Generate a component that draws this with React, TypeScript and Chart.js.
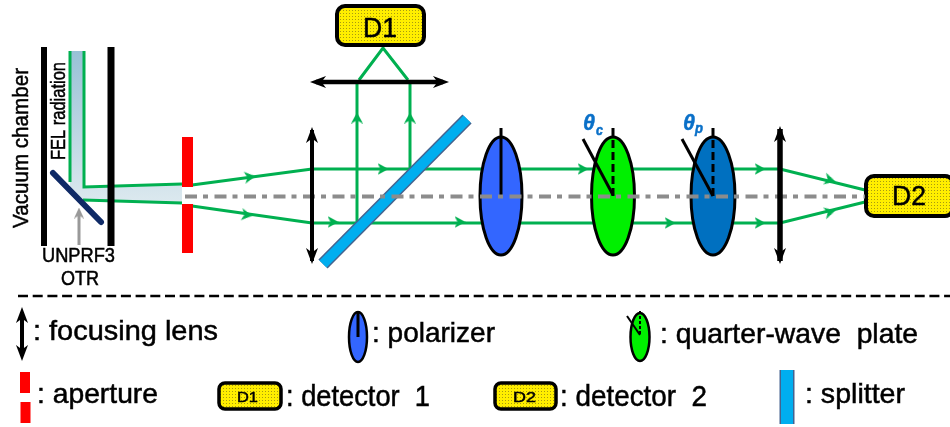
import React, { useEffect, useRef } from "react";
import { Chart, registerables } from "chart.js";

Chart.register(...registerables);

type P = { x: number; y: number };
const pts = (...a: number[]): P[] => {
  const out: P[] = [];
  for (let i = 0; i < a.length; i += 2) out.push({ x: a[i], y: a[i + 1] });
  return out;
};

// Beam and ray paths
const beamOutline = pts(70, 51, 84, 51, 84, 187, 182, 184, 182, 203, 83, 200, 70, 186);
const greenRays = [
  pts(70, 51, 70, 182),
  pts(84, 51, 84, 187, 182, 184),
  pts(83, 200, 182, 203),
  pts(192, 185, 312, 169, 780, 169, 865, 190),
  pts(192, 206, 312, 223, 780, 223, 865, 202),
  pts(357, 222, 357, 84),
  pts(410, 169, 410, 82),
  pts(359, 80, 383, 48, 408, 80),
];
const greenHeads = [
  { x: 250, y: 177, a: 82 }, { x: 247, y: 215, a: 98 },
  { x: 383, y: 169, a: 90 }, { x: 333, y: 222, a: 90 },
  { x: 460, y: 222, a: 90 }, { x: 583, y: 169, a: 90 },
  { x: 357, y: 118, a: 0 }, { x: 410, y: 118, a: 0 },
  { x: 760, y: 169, a: 90 }, { x: 760, y: 223, a: 90 }, { x: 670, y: 223, a: 90 },
  { x: 830, y: 180, a: 104 }, { x: 830, y: 212, a: 76 },
];
const blackHeads = [
  { x: 312, y: 135, a: 0 }, { x: 312, y: 256, a: 180 },
  { x: 780, y: 134, a: 0 }, { x: 780, y: 256, a: 180 },
  { x: 318, y: 82, a: 270 }, { x: 441, y: 82, a: 90 },
  { x: 22, y: 315, a: 0 }, { x: 22, y: 353, a: 180 },
];

// Structural lines
const chamberWalls = [pts(44, 47, 44, 246), pts(111, 47, 111, 246)];
const mirror = pts(53, 173, 101, 222);
const otrArrow = pts(79, 245, 79, 214);
const apertureBars = [pts(187.5, 137, 187.5, 187), pts(187.5, 204, 187.5, 253)];
const axisLine = pts(185, 196.5, 865, 196.5);
const lenses = [
  { d: pts(312, 130, 312, 261), w: 4 },
  { d: pts(780, 129, 780, 261), w: 5.5 },
  { d: pts(316, 82, 443, 82), w: 4.5 },
  { d: pts(22, 312, 22, 356), w: 4 },
];
const splitter = pts(323, 264, 467, 119);
const divider = pts(18, 296, 950, 296);
const apertureKey = [pts(25, 372, 25, 393), pts(25.5, 402, 25.5, 423)];
const splitterKey = pts(787, 370, 787, 424);
const solidTicks = [pts(501, 128, 501, 196), pts(583, 139, 613, 195), pts(682, 139, 713, 196), pts(358, 311, 358, 337)];
const dashedTicks = [pts(613, 128, 613, 196), pts(713, 128, 713, 196)];
const keyTilt = pts(627, 316, 640, 335);
const keyDash = pts(640, 311, 640, 335);

// Optics
const ellipses = [
  { x: 501, y: 196, rx: 21, ry: 59, fill: "#3366ff", lw: 3 },
  { x: 613, y: 196, rx: 21.5, ry: 59, fill: "#00f000", lw: 3 },
  { x: 713, y: 196, rx: 22, ry: 59, fill: "#0070c0", lw: 3 },
  { x: 358, y: 337, rx: 9, ry: 25, fill: "#3366ff", lw: 2.5 },
  { x: 640, y: 337, rx: 9.5, ry: 24, fill: "#00f000", lw: 2.5 },
];
const detectors = [
  { x0: 337, y0: 6, x1: 424, y1: 45, r: 8, lw: 4 },
  { x0: 866, y0: 176, x1: 953, y1: 216, r: 8, lw: 4 },
  { x0: 219, y0: 383, x1: 281, y1: 409, r: 6, lw: 3.5 },
  { x0: 495, y0: 383, x1: 556, y1: 409, r: 6, lw: 3.5 },
];

// Text
const labels = [
  { t: "D1", x: 363, y: 37, s: 28, w: 34 },
  { t: "D2", x: 892, y: 205, s: 27, w: 34 },
  { t: "D1", x: 237, y: 402, s: 15, w: 21 },
  { t: "D2", x: 513, y: 402, s: 15, w: 23 },
  { t: "Vacuum chamber", x: 28, y: 228, s: 22, w: 160, rot: true },
  { t: "FEL radiation", x: 65, y: 160, s: 20, w: 98, rot: true },
  { t: "UNPRF3", x: 42, y: 262, s: 20, w: 73 },
  { t: "OTR", x: 61, y: 285, s: 20, w: 38 },
  { t: ": focusing lens", x: 33, y: 340, s: 28, w: 185 },
  { t: ": polarizer", x: 372, y: 342, s: 28, w: 123 },
  { t: ": quarter-wave  plate", x: 660, y: 343, s: 28, w: 258 },
  { t: ": aperture", x: 37, y: 403, s: 28, w: 121 },
  { t: ": detector  1", x: 286, y: 406, s: 29, w: 144 },
  { t: ": detector  2", x: 560, y: 406, s: 29, w: 147 },
  { t: ": splitter", x: 805, y: 403, s: 28, w: 100 },
  { t: "θ", x: 583, y: 130, s: 23, w: 12, c: "#0a70c8", st: "italic bold" },
  { t: "c", x: 596, y: 135, s: 14, w: 7, c: "#0a70c8", st: "italic bold" },
  { t: "θ", x: 683, y: 130, s: 23, w: 12, c: "#0a70c8", st: "italic bold" },
  { t: "p", x: 695, y: 133, s: 14, w: 8, c: "#0a70c8", st: "italic bold" },
];

const GREEN = "#00b050";
const FONT = '"Liberation Sans", Arial, sans-serif';

function stealth(color: string, w: number, h: number) {
  const c = document.createElement("canvas");
  c.width = w; c.height = h;
  const g = c.getContext("2d")!;
  g.fillStyle = color;
  g.beginPath();
  g.moveTo(w / 2, 0);
  g.lineTo(w, h);
  g.lineTo(w / 2, h * 0.72);
  g.lineTo(0, h);
  g.closePath();
  g.fill();
  return c;
}

function dotPattern(ctx: CanvasRenderingContext2D) {
  const c = document.createElement("canvas");
  c.width = 3; c.height = 3;
  const g = c.getContext("2d")!;
  g.fillStyle = "#ffee00";
  g.fillRect(0, 0, 3, 3);
  g.fillStyle = "#a89a10";
  g.fillRect(1, 1, 1, 1);
  return ctx.createPattern(c, "repeat")!;
}

export default function App() {
  const ref = useRef<HTMLCanvasElement>(null);
  useEffect(() => {
    document.body.style.margin = "0";
    const canvas = ref.current!;
    const line = (data: P[], color: string, width: number, extra: object = {}) => ({
      data, borderColor: color, borderWidth: width, showLine: true, pointRadius: 0,
      tension: 0, borderCapStyle: "butt", borderJoinStyle: "miter", fill: false, clip: false, ...extra,
    });
    const heads = (list: { x: number; y: number; a: number }[], img: HTMLCanvasElement) => ({
      data: list.map((h) => ({ x: h.x, y: h.y })), showLine: false, pointStyle: img,
      pointRotation: list.map((h) => h.a), pointRadius: 6, clip: false,
    });
    // Listed from the bottom layer to the top layer
    const layers: any[] = [
      ...greenRays.map((d) => line(d, GREEN, 3)),
      heads(greenHeads, stealth(GREEN, 12, 11)),
      { ...line(chamberWalls[0], "#000", 6), label: "optics-below" },
      line(chamberWalls[1], "#000", 7),
      line(mirror, "#0f2a66", 6, { borderCapStyle: "round" }),
      line(otrArrow, "#999999", 3),
      heads([{ x: 79, y: 213, a: 0 }], stealth("#999999", 10, 11)),
      ...apertureBars.map((d) => line(d, "#ff0000", 11)),
      ...apertureKey.map((d) => line(d, "#ff0000", 10)),
      line(splitter, "#44638f", 13),
      line(splitter, "#00aeef", 10),
      line(splitterKey, "#44638f", 15),
      line(splitterKey, "#00aeef", 12),
      ...solidTicks.map((d) => line(d, "#000", 3)),
      ...dashedTicks.map((d) => line(d, "#000", 3, { borderDash: [8, 4] })),
      line(keyTilt, "#000", 2),
      line(keyDash, "#000", 2, { borderDash: [3, 2] }),
      line(axisLine, "#8c8c8c", 4, { borderDash: [12, 6, 5, 6.5] }),
      ...lenses.map((l) => line(l.d, "#000", l.w)),
      heads(blackHeads, stealth("#000", 12, 16)),
      line(divider, "#000", 2.5, { borderDash: [10, 4.7] }),
    ];
    layers.forEach((l, i) => (l.order = layers.length - i));

    const opticsPlugin = {
      id: "optics",
      beforeDatasetsDraw(chart: any) {
        const { ctx, scales } = chart;
        const X = (v: number) => scales.x.getPixelForValue(v);
        const Y = (v: number) => scales.y.getPixelForValue(v);
        const grad = ctx.createLinearGradient(0, Y(51), 0, Y(203));
        grad.addColorStop(0, "#98c1d6");
        grad.addColorStop(1, "#dce9ef");
        ctx.save();
        ctx.fillStyle = grad;
        ctx.beginPath();
        beamOutline.forEach((p, i) => (i ? ctx.lineTo(X(p.x), Y(p.y)) : ctx.moveTo(X(p.x), Y(p.y))));
        ctx.closePath();
        ctx.fill();
        ctx.restore();
      },
      afterDatasetDraw(chart: any, args: any) {
        if (chart.data.datasets[args.index].label !== "optics-below") return;
        const { ctx, scales } = chart;
        const X = (v: number) => scales.x.getPixelForValue(v);
        const Y = (v: number) => scales.y.getPixelForValue(v);
        ctx.save();
        ctx.strokeStyle = "#000";
        ellipses.forEach((e) => {
          ctx.beginPath();
          ctx.ellipse(X(e.x), Y(e.y), e.rx, e.ry, 0, 0, Math.PI * 2);
          ctx.fillStyle = e.fill;
          ctx.fill();
          ctx.lineWidth = e.lw;
          ctx.stroke();
        });
        const pattern = dotPattern(ctx);
        detectors.forEach((d) => {
          ctx.beginPath();
          ctx.roundRect(X(d.x0), Y(d.y0), X(d.x1) - X(d.x0), Y(d.y1) - Y(d.y0), d.r);
          ctx.fillStyle = pattern;
          ctx.fill();
          ctx.lineWidth = d.lw;
          ctx.stroke();
        });
        ctx.restore();
      },
      afterDraw(chart: any) {
        const { ctx, scales } = chart;
        labels.forEach((l: any) => {
          ctx.save();
          ctx.font = `${l.st ? l.st + " " : ""}${l.s}px ${FONT}`;
          ctx.fillStyle = l.c || "#000";
          ctx.strokeStyle = l.c || "#000";
          ctx.lineWidth = 0.5;
          ctx.textAlign = "left";
          ctx.textBaseline = "alphabetic";
          ctx.translate(scales.x.getPixelForValue(l.x), scales.y.getPixelForValue(l.y));
          if (l.rot) ctx.rotate(-Math.PI / 2);
          ctx.scale(l.w / ctx.measureText(l.t).width, 1);
          ctx.fillText(l.t, 0, 0);
          ctx.strokeText(l.t, 0, 0);
          ctx.restore();
        });
      },
    };

    const chart = new Chart(canvas, {
      type: "scatter",
      data: { datasets: layers },
      options: {
        animation: false,
        responsive: false,
        devicePixelRatio: 1,
        layout: { padding: 0, autoPadding: false },
        plugins: { legend: { display: false }, tooltip: { enabled: false } },
        scales: {
          x: { type: "linear", min: 0, max: 950, display: false },
          y: { type: "linear", min: 0, max: 427, reverse: true, display: false },
        },
      },
      plugins: [opticsPlugin],
    } as any);
    return () => chart.destroy();
  }, []);
  return <canvas ref={ref} width={950} height={427} style={{ display: "block" }} />;
}
